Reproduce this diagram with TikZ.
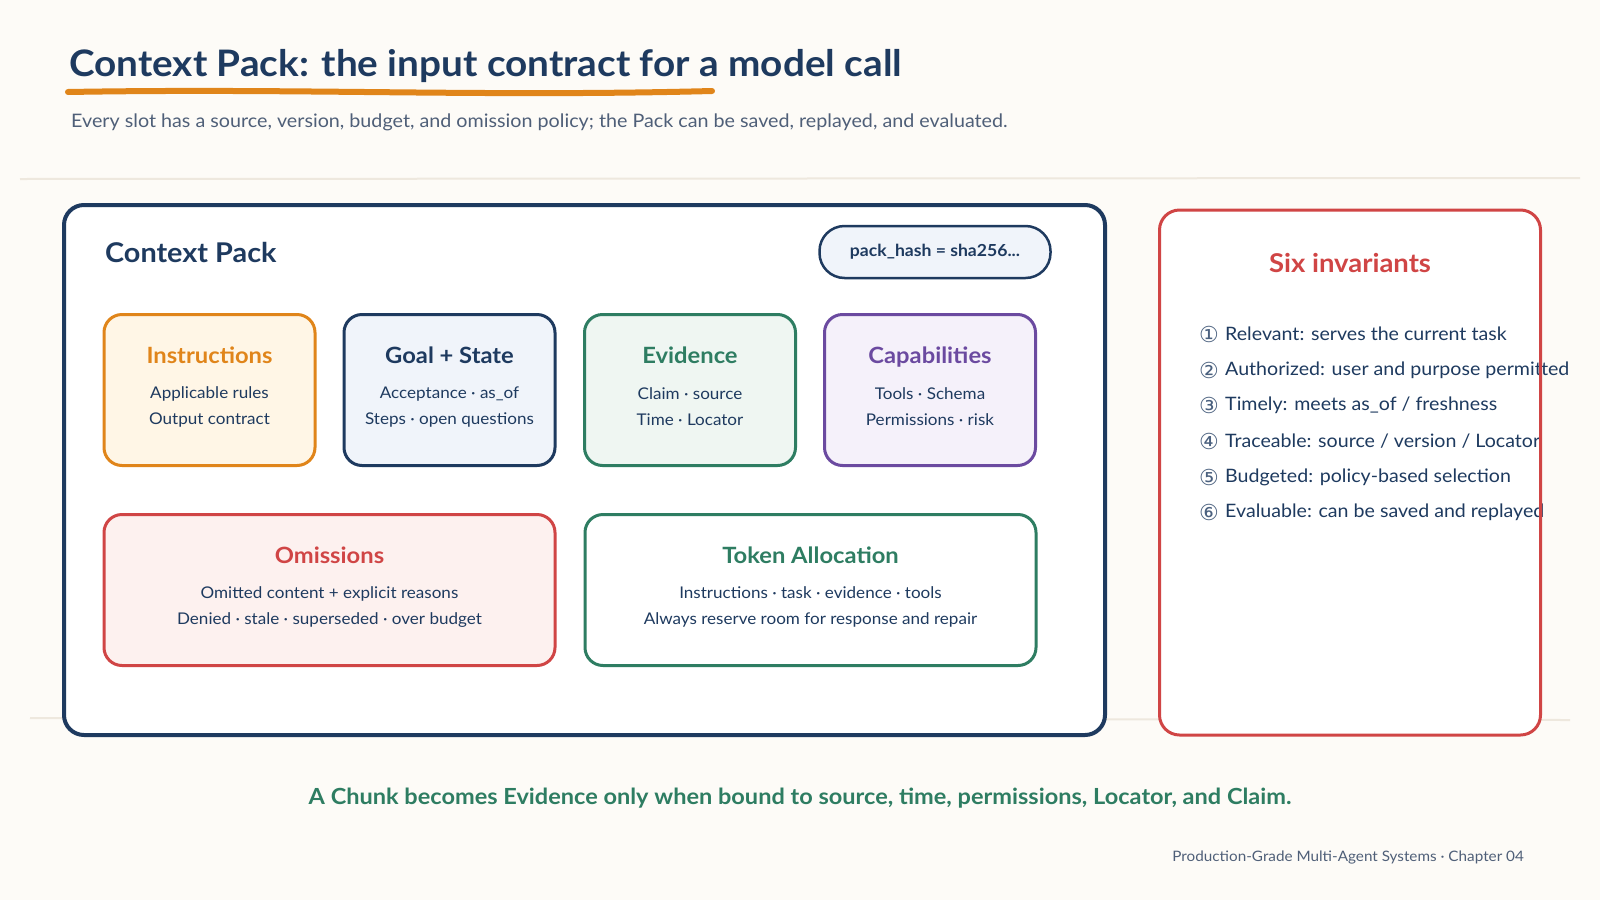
\documentclass[tikz,border=0pt]{standalone}
\usepackage{fontspec}
\setmainfont{Lato}[FakeStretch=1.06]
\newfontfamily\symfont{DejaVu Sans}
\definecolor{bg}{HTML}{FDFBF7}
\definecolor{navy}{HTML}{1E3A5F}
\definecolor{slate}{HTML}{4F5F78}
\definecolor{orng}{HTML}{E0851A}
\definecolor{orngfill}{HTML}{FFF6E6}
\definecolor{bluefill}{HTML}{F0F4FA}
\definecolor{grn}{HTML}{2E7D62}
\definecolor{grnfill}{HTML}{EFF6F2}
\definecolor{purp}{HTML}{6B4AA0}
\definecolor{purpfill}{HTML}{F5F1FA}
\definecolor{redc}{HTML}{D04545}
\definecolor{redfill}{HTML}{FDF1EF}
\definecolor{rule}{HTML}{EEE8DE}
\tikzset{
  card/.style={draw, line width=3pt, rounded corners=18pt, minimum width=211pt, minimum height=151pt, inner sep=0pt},
  widecard/.style={card, minimum width=451pt},
  cardtitle/.style={font=\fontsize{22.4}{26}\selectfont\bfseries, inner sep=0pt, anchor=center, text height=16.2pt, text depth=4.6pt},
  cardbody/.style={font=\fontsize{16.1}{26}\selectfont, text=navy, align=center, inner sep=0pt, anchor=center},
  inv/.style={font=\fontsize{18.5}{22}\selectfont, text=navy, anchor=west, inner sep=0pt},
  num/.style={font=\symfont\fontsize{22}{22}\selectfont, text=navy!80, anchor=center, inner sep=0pt}
}
\begin{document}
\begin{tikzpicture}[x=1pt,y=-1pt]
\useasboundingbox (0,0) rectangle (1600,900);
\fill[bg] (0,0) rectangle (1600,900);
% faint rules
\draw[rule, line width=2pt] (20,179) -- (1580,178);
\draw[rule, line width=2pt] (30,718) -- (1570,720);
% title
\node[anchor=west, inner sep=0pt, text=navy, font=\fontsize{36.5}{40}\selectfont\bfseries] (title) at (69,66) {Context Pack: the input contract for a model call};
\draw[orng, line width=6pt, line cap=round] (68,92) .. controls (300,88) and (480,97) .. (712,91);
\node[anchor=west, inner sep=0pt, text=slate, font=\fontsize{18.6}{22}\selectfont] (subtitle) at (71,122) {Every slot has a source, version, budget, and omission policy; the Pack can be saved, replayed, and evaluated.};
% main box
\node[draw=navy, fill=white, line width=4pt, rounded corners=20pt, minimum width=1041pt, minimum height=530pt, inner sep=0pt] (pack) at (584.5,470) {};
\node[anchor=west, inner sep=0pt, text=navy, font=\fontsize{27.2}{32}\selectfont\bfseries] (packtitle) at (105,252) {Context Pack};
\node[draw=navy, fill=bluefill, line width=2.5pt, rounded corners=25pt, minimum width=231pt, minimum height=52pt, inner sep=0pt, text=navy, font=\fontsize{16.6}{20}\selectfont\bfseries] (hash) at (935,252) {pack\_hash = sha256...};
% row 1
\node[card, draw=orng, fill=orngfill] (instr) at (209.5,390) {};
\node[cardtitle, text=orng] (instrT) at (209.5,358) {Instructions};
\node[cardbody] (instrB) at (209.5,407) {Applicable rules\\Output contract};

\node[card, draw=navy, fill=bluefill] (goal) at (449.5,390) {};
\node[cardtitle, text=navy] (goalT) at (449.5,358) {Goal + State};
\node[cardbody] (goalB) at (449.5,407) {Acceptance · as\_of\\Steps · open questions};

\node[card, draw=grn, fill=grnfill] (evid) at (690,390) {};
\node[cardtitle, text=grn] (evidT) at (690,358) {Evidence};
\node[cardbody] (evidB) at (690,407) {Claim · source\\Time · Locator};

\node[card, draw=purp, fill=purpfill] (cap) at (930,390) {};
\node[cardtitle, text=purp] (capT) at (930,358) {Capabilities};
\node[cardbody] (capB) at (930,407) {Tools · Schema\\Permissions · risk};
% row 2
\node[widecard, draw=redc, fill=redfill] (omit) at (329.5,590) {};
\node[cardtitle, text=redc] (omitT) at (329.5,558) {Omissions};
\node[cardbody] (omitB) at (329.5,607) {Omitted content + explicit reasons\\Denied · stale · superseded · over budget};

\node[widecard, draw=grn, fill=white] (tok) at (810.5,590) {};
\node[cardtitle, text=grn] (tokT) at (810.5,558) {Token Allocation};
\node[cardbody] (tokB) at (810.5,607) {Instructions · task · evidence · tools\\Always reserve room for response and repair};
% right panel
\node[fill=white, rounded corners=20pt, minimum width=381pt, minimum height=525pt, inner sep=0pt] (inv) at (1350,472.5) {};
\node[cardtitle, text=redc, font=\fontsize{25.9}{28}\selectfont\bfseries, text height=18.7pt, text depth=5.3pt] (invT) at (1350,266) {Six invariants};
\node[num] (n1) at (1209,334) {①};
\node[inv] (i1) at (1225,334) {Relevant: serves the current task};
\node[num] (n2) at (1209,370) {②};
\node[inv] (i2) at (1225,370) {Authorized: user and purpose permitted};
\node[num] (n3) at (1209,405) {③};
\node[inv] (i3) at (1225,405) {Timely: meets as\_of / freshness};
\node[num] (n4) at (1209,441) {④};
\node[inv] (i4) at (1225,441) {Traceable: source / version / Locator};
\node[num] (n5) at (1209,477) {⑤};
\node[inv] (i5) at (1225,477) {Budgeted: policy-based selection};
\node[num] (n6) at (1209,512) {⑥};
\node[inv] (i6) at (1225,512) {Evaluable: can be saved and replayed};
\node[draw=redc, line width=3pt, rounded corners=20pt, minimum width=381pt, minimum height=525pt, inner sep=0pt] (invborder) at (1350,472.5) {};
% footer
\node[inner sep=0pt, text=grn, font=\fontsize{22.2}{26}\selectfont\bfseries] (foot) at (800,798) {A Chunk becomes Evidence only when bound to source, time, permissions, Locator, and Claim.};
\node[anchor=east, inner sep=0pt, text=slate, font=\fontsize{14.4}{18}\selectfont] (credit) at (1524,857) {Production-Grade Multi-Agent Systems · Chapter 04};
\end{tikzpicture}
\end{document}
